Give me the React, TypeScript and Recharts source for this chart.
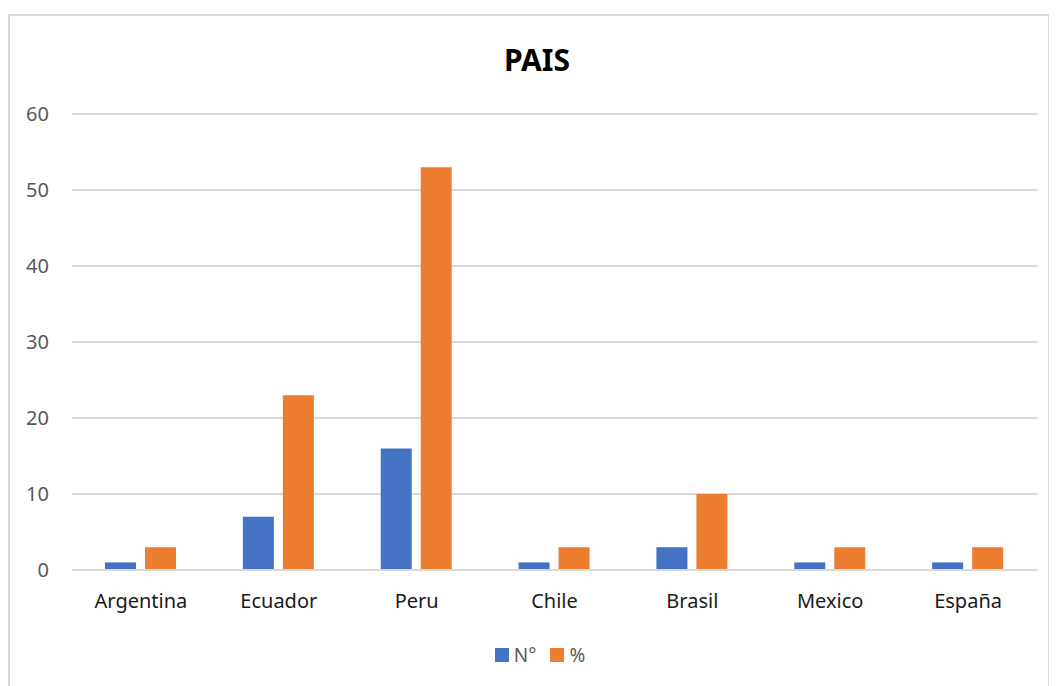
import React from "react";
import { BarChart, Bar, XAxis, YAxis, CartesianGrid, Legend } from "recharts";

const countries = ["Argentina", "Ecuador", "Peru", "Chile", "Brasil", "Mexico", "España"];
const counts = [1, 7, 16, 1, 3, 1, 1];
const percents = [3, 23, 53, 3, 10, 3, 3];
const yTicks = [0, 10, 20, 30, 40, 50, 60];
const seriesOrder = ["N°", "%"];

const BLUE = "#4472C4";
const ORANGE = "#ED7D31";
const FONT = "'Noto Sans', sans-serif";

const data = countries.map((name, i) => ({
  name,
  n: counts[i],
  pct: percents[i],
}));

const LegendContent = ({ payload }: any) => {
  const items = [...(payload || [])].sort(
    (a: any, b: any) => seriesOrder.indexOf(a.value) - seriesOrder.indexOf(b.value)
  );
  return (
    <div
      style={{
        display: "flex",
        justifyContent: "center",
        gap: 14,
        fontFamily: FONT,
        fontSize: 19,
        color: "#595959",
      }}
    >
      {items.map((p: any) => (
        <div key={p.value} style={{ display: "flex", alignItems: "center" }}>
          <span
            style={{
              width: 14,
              height: 14,
              background: p.color,
              display: "inline-block",
              marginRight: 5,
            }}
          />
          <span>{p.value}</span>
        </div>
      ))}
    </div>
  );
};

export default function App() {
  return (
    <div style={{ paddingTop: 6 }}>
      <div
        style={{
          position: "relative",
          width: 1042,
          height: 692,
          border: "2px solid #d9d9d9",
          boxSizing: "border-box",
          background: "#fff",
        }}
      >
        <div
          style={{
            position: "absolute",
            top: 23,
            left: 8,
            width: "100%",
            textAlign: "center",
            fontFamily: FONT,
            fontWeight: 700,
            fontSize: 30,
            color: "#000",
          }}
        >
          PAIS
        </div>
        <BarChart
          width={1038}
          height={688}
          data={data}
          margin={{ top: 98, right: 11, left: 0, bottom: 0 }}
          barSize={31}
          barGap={9}
        >
          <CartesianGrid vertical={false} stroke="#d9d9d9" strokeWidth={2} />
          <XAxis
            dataKey="name"
            height={134}
            axisLine={{ stroke: "#d9d9d9", strokeWidth: 2 }}
            tickLine={false}
            tickSize={0}
            tickMargin={24}
            tick={{ fill: "#1a1a1a", fontSize: 20, fontFamily: FONT }}
            interval={0}
          />
          <YAxis
            width={62}
            domain={[0, 60]}
            ticks={yTicks}
            axisLine={false}
            tickLine={false}
            tickSize={0}
            tickMargin={23}
            tick={{ fill: "#595959", fontSize: 20, fontFamily: FONT }}
          />
          <Legend
            layout="horizontal"
            verticalAlign="middle"
            align="center"
            wrapperStyle={{ top: 626, left: 11, width: 1038 }}
            content={<LegendContent />}
          />
          <Bar dataKey="n" name="N°" fill={BLUE} isAnimationActive={false} />
          <Bar dataKey="pct" name="%" fill={ORANGE} isAnimationActive={false} />
        </BarChart>
      </div>
    </div>
  );
}
